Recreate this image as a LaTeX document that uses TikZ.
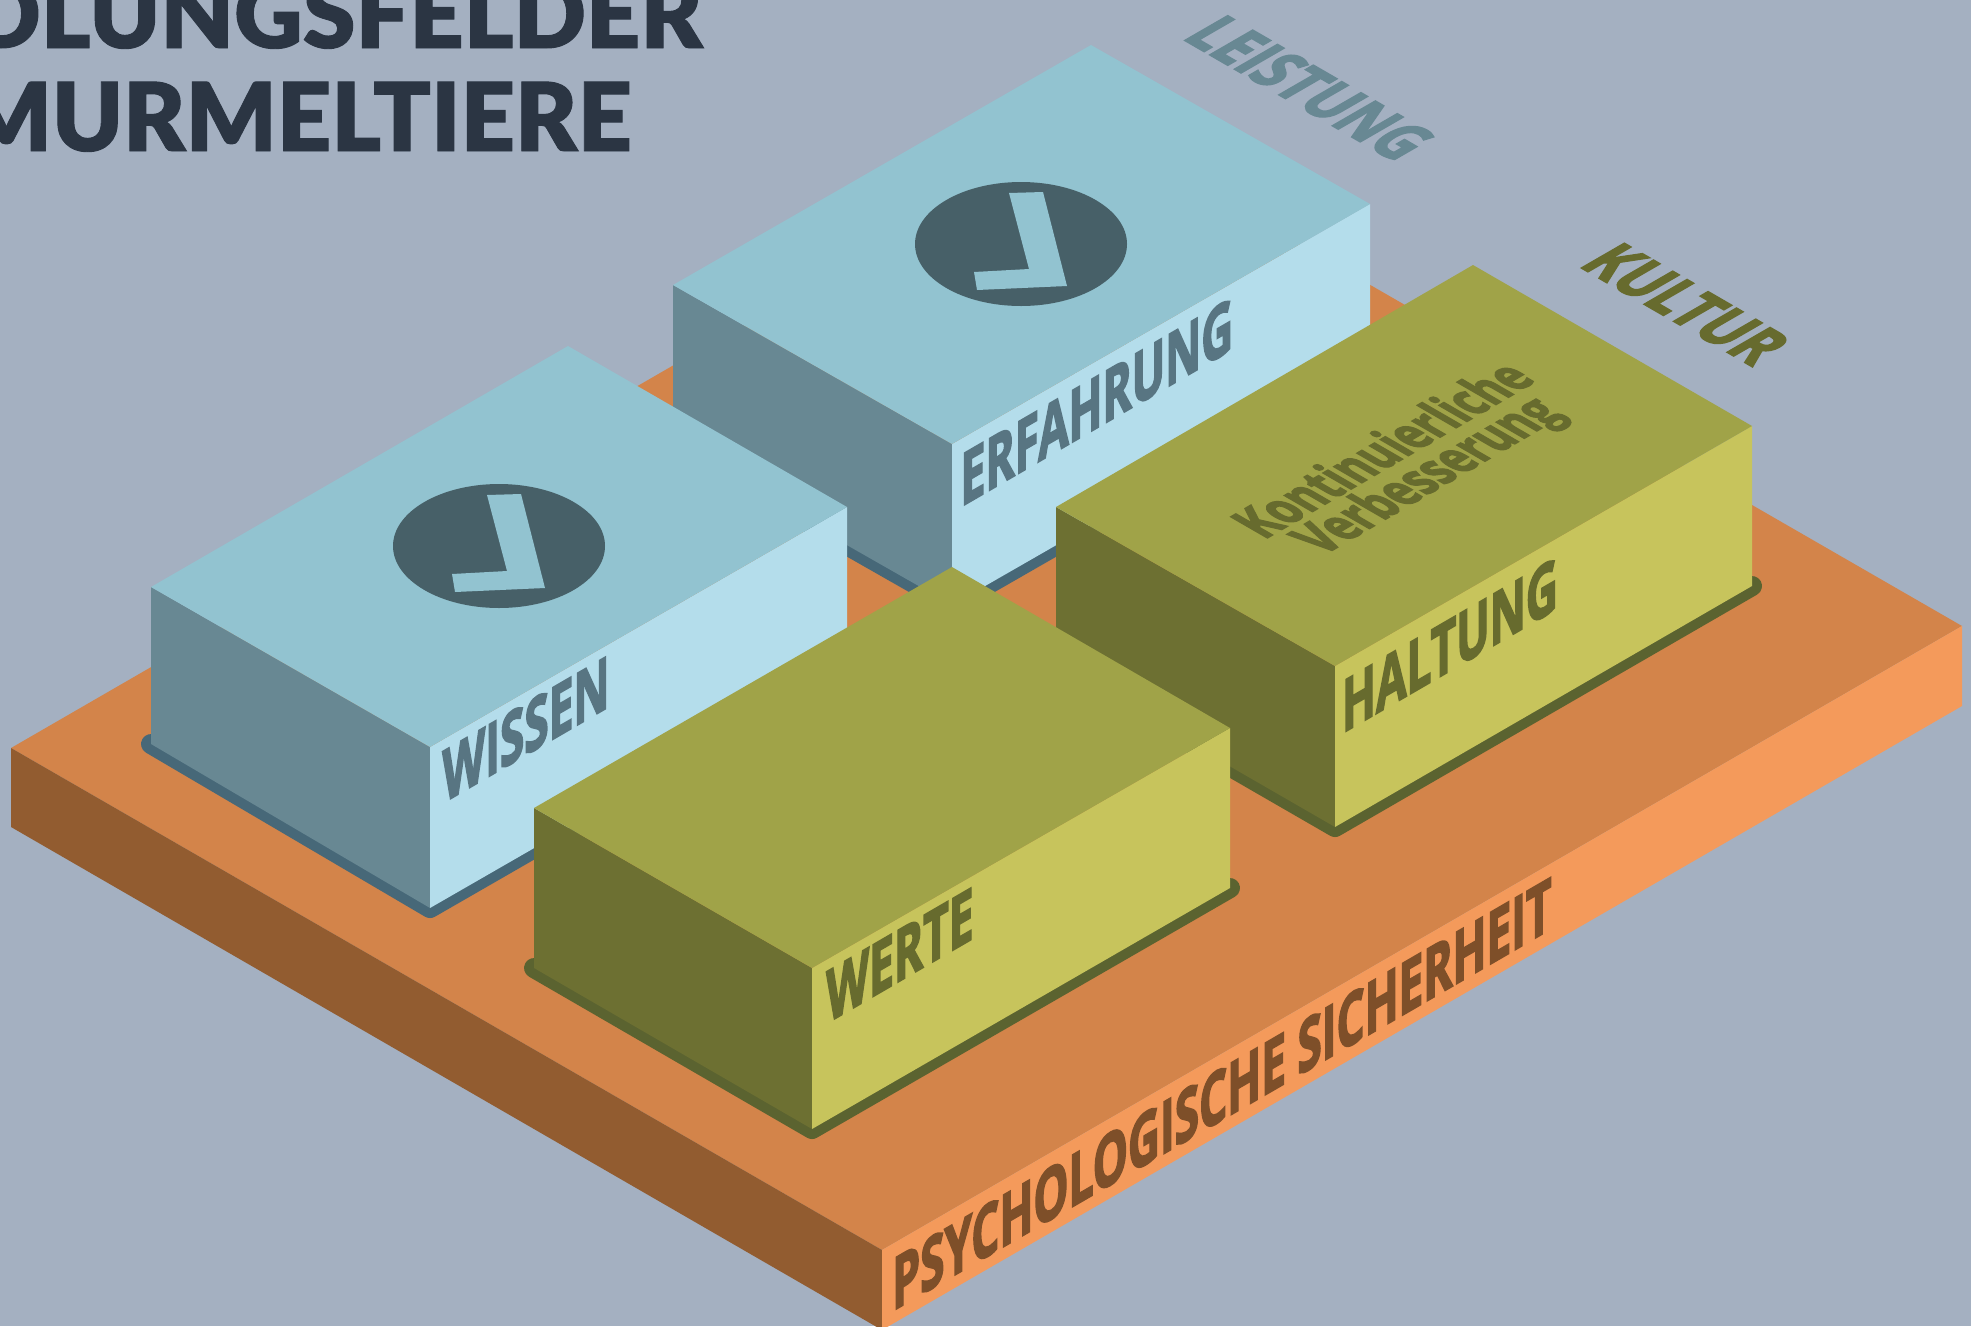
\documentclass[tikz,border=0pt]{standalone}
\usepackage{fontspec}
\setmainfont{Open Sans}
\newfontfamily\labelfont[BoldFeatures={FakeBold=3}]{Open Sans}
\newfontfamily\titlefont[FakeBold=1]{Lato Black}

\definecolor{bgcol}{HTML}{A4B0C1}
\definecolor{titlecol}{HTML}{2B3543}
\definecolor{bluetop}{HTML}{92C3D0}
\definecolor{bluefront}{HTML}{B4DDEB}
\definecolor{blueside}{HTML}{688893}
\definecolor{blueedge}{HTML}{476878}
\definecolor{bluedisc}{HTML}{476068}
\definecolor{bluetext}{HTML}{587582}
\definecolor{olivetop}{HTML}{A0A348}
\definecolor{olivefront}{HTML}{C7C45C}
\definecolor{oliveside}{HTML}{6D7032}
\definecolor{oliveedge}{HTML}{5B6330}
\definecolor{olivetext}{HTML}{676B2E}
\definecolor{platetop}{HTML}{D3844A}
\definecolor{platefront}{HTML}{F49A5B}
\definecolor{plateside}{HTML}{925C30}
\definecolor{platetext}{HTML}{7E4F29}

\tikzset{
  rimline/.style={line width=20pt, line cap=round, line join=round},
  frontlabel/.style={transform shape, cm={.615,.357,0,1,(0,0)}, inner sep=0pt, font=\labelfont\fontsize{72}{72}\selectfont\bfseries},
  toplabel/.style={transform shape, cm={.60,.35,-.866,.5,(0,0)}, inner sep=0pt, align=center, font=\labelfont\fontsize{59}{50}\selectfont\bfseries},
  floorlabel/.style={transform shape, cm={.64,-.37,.866,.5,(0,0)}, inner sep=0pt, font=\labelfont\fontsize{69}{69}\selectfont\bfseries},
  titlelabel/.style={inner sep=0pt, anchor=base east, text=titlecol, font=\titlefont\fontsize{95}{95}\selectfont}
}

\begin{document}
\begin{tikzpicture}[x=1pt,y=-1pt]
 \useasboundingbox (0,0) rectangle (1971,1326);
 \clip (0,0) rectangle (1971,1326);
 \fill[bgcol] (0,0) rectangle (1971,1326);

% Title
 \node[titlelabel] (titleA) at (703,48) {DLUNGSFELDER};
 \node[titlelabel] (titleB) at (632,151) {MURMELTIERE};

% Plate
 \fill[platetop] (11,748) -- (1091,124) -- (1962,626) -- (882,1250) -- cycle;
 \fill[plateside] (11,748) -- (882,1250) -- (882,1330) -- (11,827) -- cycle;
 \fill[platefront] (882,1250) -- (1962,626) -- (1962,706) -- (882,1330) -- cycle;
 \node[frontlabel, text=platetext] (sicherheit) at (1222,1094) {PSYCHOLOGISCHE SICHERHEIT};

% Erfahrung
 \draw[rimline, blueedge] (673,446) -- (952,605) -- (1370,365);
 \fill[blueside] (673,285) -- (952,444) -- (952,605) -- (673,446) -- cycle;
 \fill[bluefront] (952,444) -- (1370,204) -- (1370,365) -- (952,605) -- cycle;
 \fill[bluetop] (673,285) -- (1091,45) -- (1370,204) -- (952,444) -- cycle;
 \fill[bluedisc] (1021,244) ellipse (106 and 62);
 \fill[bluetop] (1009,193) -- (1043,192) -- (1067,286) -- (977,290) -- (974,272) -- (1029,269) -- cycle;
 \node[frontlabel, text=bluetext] (erfahrung) at (1097,402) {ERFAHRUNG};

% Wissen
 \draw[rimline, blueedge] (151,744) -- (430,908) -- (847,668);
 \fill[blueside] (151,587) -- (430,747) -- (430,908) -- (151,744) -- cycle;
 \fill[bluefront] (430,747) -- (847,507) -- (847,668) -- (430,908) -- cycle;
 \fill[bluetop] (151,587) -- (568,346) -- (847,507) -- (430,747) -- cycle;
 \fill[bluedisc] (499,546) ellipse (106 and 62);
 \fill[bluetop] (487,495) -- (521,494) -- (545,588) -- (455,592) -- (452,574) -- (507,571) -- cycle;
 \node[frontlabel, text=bluetext] (wissen) at (526,729) {WISSEN};

% Haltung
 \draw[rimline, oliveedge] (1056,666) -- (1335,827) -- (1752,586);
 \fill[oliveside] (1056,507) -- (1335,666) -- (1335,827) -- (1056,666) -- cycle;
 \fill[olivefront] (1335,666) -- (1752,426) -- (1752,586) -- (1335,827) -- cycle;
 \fill[olivetop] (1056,507) -- (1473,265) -- (1752,426) -- (1335,666) -- cycle;
 \node[toplabel, text=olivetext] (verbesserung) at (1409,465) {Kontinuierliche\\Verbesserung};
 \node[frontlabel, text=olivetext] (haltung) at (1450,645) {HALTUNG};

% Werte
 \draw[rimline, oliveedge] (534,968) -- (812,1129) -- (1230,888);
 \fill[oliveside] (534,808) -- (812,968) -- (812,1129) -- (534,968) -- cycle;
 \fill[olivefront] (812,968) -- (1230,728) -- (1230,888) -- (812,1129) -- cycle;
 \fill[olivetop] (534,808) -- (952,567) -- (1230,728) -- (812,968) -- cycle;
 \node[frontlabel, text=olivetext] (werte) at (900,955) {WERTE};

% Outer labels
 \node[floorlabel, text=blueside] (leistung) at (1310,88) {LEISTUNG};
 \node[floorlabel, text=olivetext] (kultur) at (1686,304) {KULTUR};

\end{tikzpicture}
\end{document}
